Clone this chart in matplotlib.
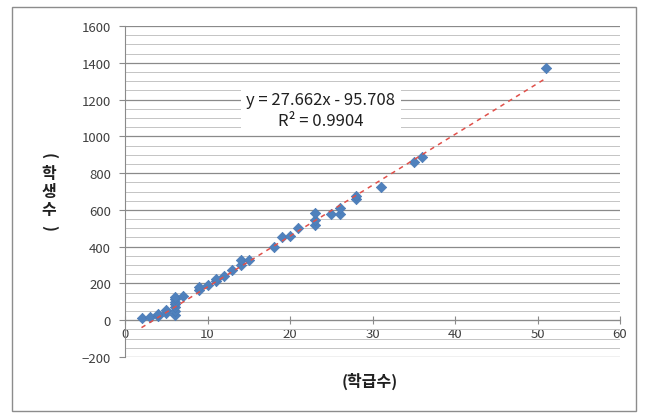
import matplotlib.pyplot as plt
import numpy as np
from matplotlib.patches import Rectangle

plt.rcParams['font.family'] = ['Noto Sans CJK KR', 'DejaVu Sans']

# classes per school vs. students per school
classes = [2, 3, 4, 4, 5, 5, 6, 6, 6, 6, 6, 6, 6, 7, 9, 9, 10, 11, 11, 12,
           13, 14, 14, 15, 18, 19, 20, 21, 23, 23, 23, 25, 26, 26, 28, 28,
           31, 35, 36, 51]
students = [10, 15, 25, 35, 40, 55, 30, 50, 70, 90, 100, 115, 125, 130, 165,
            180, 190, 215, 225, 240, 275, 300, 330, 330, 400, 450, 460, 500,
            520, 545, 585, 580, 580, 610, 660, 675, 725, 860, 890, 1370]

# trendline as printed on the chart
slope = 27.662
intercept = -95.708
r_squared = 0.9904

x_label = '(학급수)'
y_label = '(학생수)'

fig = plt.figure(figsize=(6.46, 4.14), dpi=100)
ax = fig.add_axes([125 / 646, 1 - 358 / 414, 495 / 646, 331 / 414])

# outer chart border
fig.patches.append(Rectangle((12 / 646, 1 - 412 / 414), 624 / 646, 404 / 414,
                             transform=fig.transFigure, fill=False,
                             edgecolor='#8c8c8c', linewidth=1.0))

ax.set_xlim(0, 60)
ax.set_ylim(-200, 1600)
ax.set_xticks(np.arange(0, 61, 10))
ax.set_yticks(np.arange(-200, 1601, 200))
ax.set_yticks(np.arange(-200, 1601, 50), minor=True)

ax.grid(True, which='major', axis='y', color='#8a8a8a', linewidth=0.9)
ax.grid(True, which='minor', axis='y', color='#c4c4c4', linewidth=0.7)
ax.set_axisbelow(True)

for side in ['top', 'right']:
    ax.spines[side].set_visible(False)
ax.spines['bottom'].set_position(('data', 0))
ax.spines['bottom'].set_color('#8a8a8a')
ax.spines['left'].set_color('#8a8a8a')

ax.tick_params(axis='x', direction='inout', length=6, color='#8a8a8a',
               labelsize=9.5, labelcolor='#404040', pad=2)
ax.tick_params(axis='y', which='major', direction='out', length=4,
               color='#8a8a8a', labelsize=9.5, labelcolor='#404040', pad=6)
ax.tick_params(axis='y', which='minor', length=0)

# data
ax.scatter(classes, students, marker='D', s=28, color='#4F81BD',
           edgecolor='#4a7ab5', linewidth=0.5, zorder=3)

# trendline over the data range
tx = np.array([min(classes), max(classes)])
ax.plot(tx, slope * tx + intercept, linestyle=(0, (3, 3)), color='#e0504a',
        linewidth=1.1, zorder=4)

eq = 'y = %.3fx - %.3f\nR² = %.4f' % (slope, -intercept, r_squared)
fig.text(321 / 646, 1 - 111 / 414, eq, ha='center', va='center',
         fontsize=12, color='#202020', linespacing=1.3,
         bbox=dict(facecolor='white', edgecolor='none', pad=4))

fig.text(370 / 646, 1 - 381 / 414, x_label, ha='center', va='center',
         fontsize=11.5, fontweight='bold', color='#202020')

# y label: characters stacked, parentheses turned
chars = list(y_label)
y0 = 156
step = 18
for i, ch in enumerate(chars):
    rot = -90 if ch in '()' else 0
    fig.text(49 / 646, 1 - (y0 + i * step) / 414, ch, ha='center',
             va='center', fontsize=11.5, fontweight='bold', color='#202020',
             rotation=rot)

fig.savefig('out.png', dpi=100)
